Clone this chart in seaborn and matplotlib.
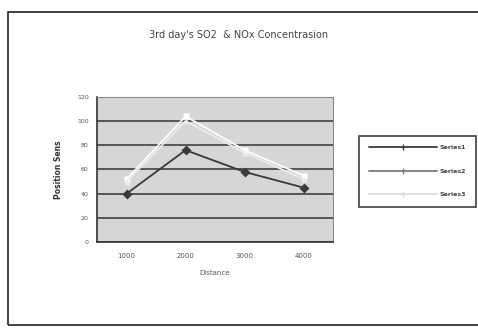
import pandas as pd
import seaborn as sns
import matplotlib.pyplot as plt
from matplotlib.patches import Rectangle

# values
distances = ['1000', '2000', '3000', '4000']
series1 = [40, 76, 58, 45]
series2 = [52, 104, 76, 55]
series3 = [50, 100, 74, 52]
y_ticks = [0, 20, 40, 60, 80, 100, 120]

df = pd.DataFrame({
    'pos': list(range(len(distances))) * 3,
    'value': series1 + series2 + series3,
    'series': ['Series1'] * 4 + ['Series2'] * 4 + ['Series3'] * 4,
})

sns.set_style('white')
plt.rcParams['font.family'] = ['DejaVu Sans']

fig = plt.figure(figsize=(4.78, 3.33), dpi=100)
fig.patches.append(Rectangle((0.017, 0.025), 1.0, 0.94, transform=fig.transFigure,
                             fill=False, edgecolor='#222222', linewidth=1.2))

ax = fig.add_axes([0.203, 0.273, 0.494, 0.436])
ax.set_facecolor('#d6d6d6')

palette = {'Series1': '#3a3a3a', 'Series2': '#ffffff', 'Series3': '#ececec'}
markers = {'Series1': 'D', 'Series2': 's', 'Series3': '^'}
sns.lineplot(data=df, x='pos', y='value', hue='series', style='series',
             palette=palette, markers=markers, dashes=False, markersize=5,
             linewidth=1.3, markeredgecolor='none', ax=ax, legend=False)

ax.set_xlim(-0.5, 3.5)
ax.set_ylim(0, 120)
ax.set_yticks(y_ticks)
ax.set_yticklabels([str(t) for t in y_ticks], fontsize=4.5, color='#555555')
ax.yaxis.grid(True, color='#333333', linewidth=1.1)
ax.set_axisbelow(True)
ax.set_xticks(range(len(distances)))
ax.set_xticklabels(distances, fontsize=5, color='#555555')
ax.tick_params(axis='x', length=0, pad=8)
ax.set_xticks([0.5, 1.5, 2.5], minor=True)
ax.tick_params(axis='x', which='minor', length=3, width=1, color='#333333', direction='out')
ax.tick_params(axis='y', length=3, width=1, color='#333333', direction='out', pad=3)
for side in ['left', 'bottom']:
    ax.spines[side].set_color('#333333')
    ax.spines[side].set_linewidth(1.2)
for side in ['top', 'right']:
    ax.spines[side].set_color('#888888')
    ax.spines[side].set_linewidth(0.8)

ax.set_xlabel('Distance', fontsize=5, color='#555555', labelpad=8)
ax.set_ylabel('Position Sens', fontsize=5.5, fontweight='bold', color='#333333', labelpad=10)

fig.text(0.5, 0.895, "3rd day's SO2  & NOx Concentrasion", ha='center', va='center',
         fontsize=7, color='#444444')

# legend box (scan shows series2's key darker than its line)
legend_colors = ['#3a3a3a', '#7a7a7a', '#dddddd']
handles = [plt.Line2D([], [], color=c, marker='|', markersize=4, linewidth=1.3)
           for c in legend_colors]
leg = fig.legend(handles, ['Series1', 'Series2', 'Series3'], loc='upper left',
                 bbox_to_anchor=(0.745, 0.602), fontsize=4.5, frameon=True,
                 fancybox=False, edgecolor='#222222', handlelength=11,
                 labelspacing=2.9, borderpad=1.5, handletextpad=0.4)
leg.get_frame().set_linewidth(1.3)
for txt in leg.get_texts():
    txt.set_fontweight('bold')
    txt.set_color('#444444')

fig.savefig('out.png', dpi=100)
